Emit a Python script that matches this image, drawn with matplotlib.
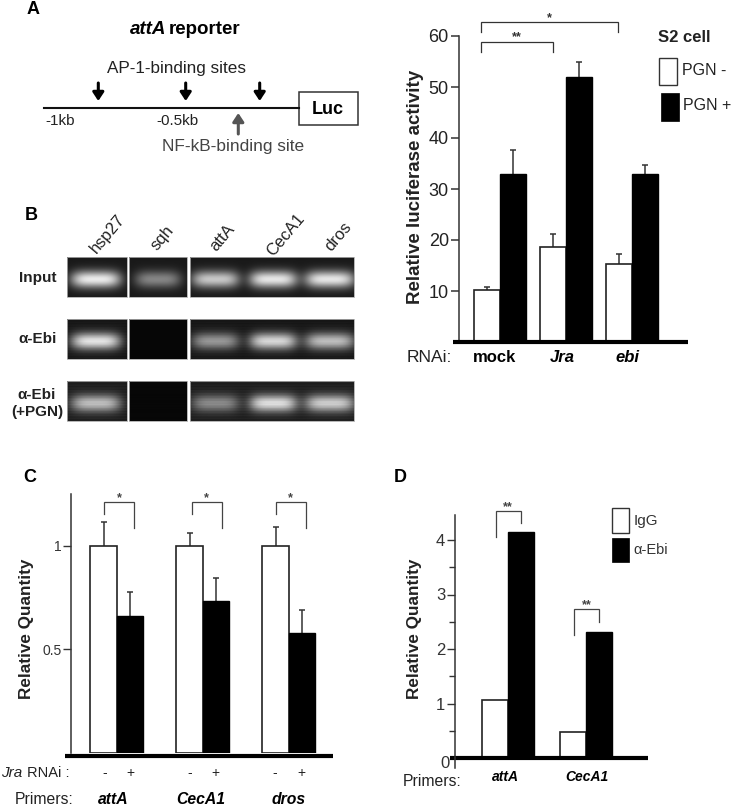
#!/usr/bin/python3
import numpy as np
import matplotlib
matplotlib.use('Agg')
import matplotlib.pyplot as plt
from matplotlib.patches import Rectangle

plt.rcParams['font.family'] = ['Liberation Sans', 'DejaVu Sans']

W, H = 733, 807

# panel A chart
rnai_labels = ['mock', 'Jra', 'ebi']
luc_minus = [10.1, 18.7, 15.2]
luc_plus = [33, 52, 33]
luc_minus_top = [10.8, 21.2, 17.2]
luc_plus_top = [37.7, 55, 34.7]
luc_ticks = [10, 20, 30, 40, 50, 60]

# panel B gel bands, brightness per lane
gel_lanes = ['hsp27', 'sqh', 'attA', 'CecA1', 'dros']
gel_rows = ['Input', 'α-Ebi', 'α-Ebi\n(+PGN)']
band_input = [0.82, 0.42, 0.68, 0.8, 0.8]
band_ebi = [0.8, 0.0, 0.5, 0.75, 0.65]
band_pgn = [0.62, 0.0, 0.42, 0.75, 0.68]

# panel C
primers_c = ['attA', 'CecA1', 'dros']
jra_minus = [1.0, 1.0, 1.0]
jra_plus = [0.66, 0.735, 0.58]
jra_minus_top = [1.113, 1.063, 1.09]
jra_plus_top = [0.777, 0.844, 0.688]

# panel D
primers_d = ['attA', 'CecA1']
igg = [1.06, 0.48]
ebi = [4.14, 2.31]
d_major = [1, 2, 3, 4]
d_minor = [0.5, 1.5, 2.5, 3.5]


def px_axes(fig, left, right, top, bottom):
    ax = fig.add_axes([left / W, 1 - bottom / H, (right - left) / W, (bottom - top) / H])
    ax.patch.set_alpha(0)
    for side in ['top', 'right', 'bottom']:
        ax.spines[side].set_visible(False)
    ax.spines['left'].set_color('#333333')
    ax.spines['left'].set_linewidth(1.1)
    ax.set_xticks([])
    return ax


def bar_pairs(ax, left, right, first, step, width, white, black, white_top=None, black_top=None):
    ax.set_xlim((left - first) / step, (right - first) / step)
    x = np.arange(len(white))
    w = width / step
    ax.bar(x - w / 2, white, w, color='white', edgecolor='#222222', linewidth=1.2, zorder=2)
    ax.bar(x + w / 2, black, w, color='black', edgecolor='black', linewidth=1.0, zorder=2)
    if white_top is not None:
        for xs, vals, tops in [(x - w / 2, white, white_top), (x + w / 2, black, black_top)]:
            ax.vlines(xs, vals, tops, color='#333333', linewidth=1.1, zorder=1)
            ax.plot(xs, tops, linestyle='none', marker='_', markersize=5, markeredgewidth=1.1,
                    color='#333333', zorder=1)


def bracket(ov, x0, x1, top, left_end, right_end, stars, star_y, color='#444444'):
    ov.plot([x0, x0, x1, x1], [left_end, top, top, right_end], color=color, lw=0.9,
            solid_joinstyle='miter')
    ov.text((x0 + x1) / 2, star_y, stars, ha='center', va='center', fontsize=9, color=color,
            fontweight='bold')


def gel(ov, x0, x1, y0, y1, centers, halves, levels, back, streak, band_half=8.5):
    xs = np.arange(x0, x1, 0.5)
    ys = np.arange(y0, y1, 0.5)
    xx, yy = np.meshgrid(xs, ys)
    img = back + streak * np.cos(yy * 2.3)
    yc = (y0 + y1) / 2 + 2
    for c, half, level in zip(centers, halves, levels):
        shape = np.exp(-((xx - c) / half) ** 4) * np.exp(-((yy - yc) / band_half) ** 2)
        img = img + level * shape
    ov.imshow(np.clip(img, 0, 1), extent=(x0, x1, y1, y0), cmap='gray', vmin=0, vmax=1,
              aspect='auto', interpolation='bilinear', zorder=1)
    ov.add_patch(Rectangle((x0, y0), x1 - x0, y1 - y0, fill=False, edgecolor='#aaaaaa', lw=0.6, zorder=2))


def arrow(ov, x, y_from, y_to, color):
    ov.annotate('', xy=(x, y_to), xytext=(x, y_from),
                arrowprops=dict(arrowstyle='-|>,head_width=0.33,head_length=0.5', color=color,
                                lw=2.2, shrinkA=0, shrinkB=0))


def main():
    fig = plt.figure(figsize=(W / 100, H / 100), dpi=100)

    # chart A
    ax = px_axes(fig, 458.5, 688, 36, 342)
    ax.set_ylim(0, 60)
    bar_pairs(ax, 458.5, 688, 499.7, 66, 26, luc_minus, luc_plus, luc_minus_top, luc_plus_top)
    ax.set_yticks(luc_ticks)
    ax.tick_params(axis='y', length=6, width=1.1, color='#333333', labelsize=13,
                   labelcolor='#222222', pad=1)

    # chart C
    ax = px_axes(fig, 71, 333, 494, 753)
    ax.set_ylim(0, 259 / 207.3)
    bar_pairs(ax, 71, 333, 116.7, 86, 26.3, jra_minus, jra_plus, jra_minus_top, jra_plus_top)
    ax.set_yticks([0.5, 1])
    ax.set_yticklabels(['0.5', '1'])
    ax.tick_params(axis='y', length=6, width=1.0, color='#333333', labelsize=10,
                   labelcolor='#333333', pad=1)

    # chart D
    ax = px_axes(fig, 455, 648, 515, 758)
    ax.set_ylim(0, 243 / 54.5)
    bar_pairs(ax, 455, 648, 507.7, 78.6, 26, igg, ebi)
    ax.set_yticks(d_major)
    ax.set_yticks(d_minor, minor=True)
    ax.tick_params(axis='y', which='major', length=6, width=1.0, color='#333333', labelsize=12,
                   labelcolor='#333333', pad=1)
    ax.tick_params(axis='y', which='minor', length=4, width=1.0, color='#333333')

    # overlay in picture pixels for the schematic, gels, labels and brackets
    ov = fig.add_axes([0, 0, 1, 1], zorder=5)
    ov.patch.set_alpha(0)
    ov.axis('off')

    # baselines
    ov.plot([453, 688], [342, 342], color='black', lw=3.0, solid_capstyle='butt')
    ov.plot([65, 333], [756, 756], color='black', lw=3.0, solid_capstyle='butt')
    ov.plot([450, 648], [757.5, 757.5], color='black', lw=3.0, solid_capstyle='butt')
    ov.plot([455, 455], [757, 768], color='#333333', lw=1.1)

    # panel letters
    for letter, x, y in [('A', 27, 9), ('B', 25, 216), ('C', 23, 477), ('D', 394, 477)]:
        ov.text(x, y, letter, fontsize=13, fontweight='bold', ha='left', va='center')

    # schematic
    ov.text(166, 30, 'attA', fontsize=13.5, fontweight='bold', style='italic', ha='right', va='center')
    ov.text(169, 30, 'reporter', fontsize=13.5, fontweight='bold', ha='left', va='center')
    ov.text(176.5, 68, 'AP-1-binding sites', fontsize=12.3, ha='center', va='center', color='#222222')
    ov.plot([44, 299], [107.5, 107.5], color='#111111', lw=1.5)
    ov.add_patch(Rectangle((299, 92), 58.5, 33, facecolor='white', edgecolor='#333333', lw=1.1))
    ov.text(328, 109, 'Luc', fontsize=13, fontweight='bold', ha='center', va='center')
    for x in [98.3, 185.7, 259.7]:
        arrow(ov, x, 83, 101, 'black')
    arrow(ov, 238.3, 134, 113, '#555555')
    ov.text(45, 121, '-1kb', fontsize=11, ha='left', va='center', color='#222222')
    ov.text(156, 121, '-0.5kb', fontsize=11, ha='left', va='center', color='#222222')
    ov.text(233.3, 146, 'NF-kB-binding site', fontsize=12.4, ha='center', va='center', color='#444444')

    # gels
    lane_centers = [96, 157.7, 215, 272.7, 329.3]
    lane_halves = [25, 23, 24, 24, 25]
    columns = [(67.3, 127, [0]), (129, 186.7, [1]), (189.7, 353.7, [2, 3, 4])]
    rows = [(257.3, 296.7, band_input, 0.1, 0.0), (319.3, 359, band_ebi, 0.09, 0.012),
            (381.3, 420.7, band_pgn, 0.12, 0.02)]
    for y0, y1, levels, back, streak in rows:
        for x0, x1, lanes in columns:
            blank = 1 in lanes and levels is not band_input
            gel(ov, x0, x1, y0, y1, [lane_centers[i] for i in lanes], [lane_halves[i] for i in lanes],
                [levels[i] for i in lanes], 0.03 if blank else back, 0 if blank else streak)
    for name, x, y in zip(gel_lanes, [108, 162, 222, 286, 338], [234, 238, 238, 235, 237]):
        ov.text(x, y, name, fontsize=12, rotation=50, ha='center', va='center', color='#222222')
    ov.text(38, 278, gel_rows[0], fontsize=11, fontweight='bold', ha='center', va='center', color='#222222')
    ov.text(37.7, 339, gel_rows[1], fontsize=11, fontweight='bold', ha='center', va='center', color='#222222')
    ov.text(37, 403.5, gel_rows[2], fontsize=11, fontweight='bold', ha='center', va='center',
            color='#222222', linespacing=1.2)

    # chart A decorations
    ov.text(416, 187, 'Relative luciferase activity', fontsize=13.5, fontweight='bold', rotation=90,
            ha='center', va='center', color='#222222')
    bracket(ov, 481, 618, 22.3, 31.7, 31.7, '*', 18, '#333333')
    bracket(ov, 481, 552.7, 42.3, 51.7, 51.7, '**', 37, '#333333')
    ov.text(657.7, 37.7, 'S2 cell', fontsize=12, fontweight='bold', ha='left', va='center', color='#222222')
    ov.add_patch(Rectangle((659.3, 58.3), 18, 26.7, facecolor='white', edgecolor='#333333', lw=1.0))
    ov.add_patch(Rectangle((660.7, 93.3), 18, 27.4, facecolor='black', edgecolor='black', lw=0.5))
    ov.text(681.7, 70.7, 'PGN -', fontsize=11.5, ha='left', va='center', color='#222222')
    ov.text(682.7, 106, 'PGN +', fontsize=11.5, ha='left', va='center', color='#222222')
    ov.text(407, 357, 'RNAi:', fontsize=12.5, ha='left', va='center', color='#222222')
    for name, x, st in zip(rnai_labels, [495, 562, 627.7], ['normal', 'italic', 'italic']):
        ov.text(x, 358, name, fontsize=12, fontweight='bold', style=st, ha='center', va='center')

    # chart C decorations
    ov.text(26.7, 629, 'Relative Quantity', fontsize=12.3, fontweight='bold', rotation=90, ha='center',
            va='center', color='#222222')
    for x0, x1 in [(104, 134.3), (191.7, 221.7), (275.7, 306)]:
        bracket(ov, x0, x1, 502.3, 514, 528, '*', 498.5)
    ov.text(1.5, 773, 'Jra', fontsize=11, style='italic', ha='left', va='center', color='#222222')
    ov.text(27, 773, 'RNAi :', fontsize=10.5, ha='left', va='center', color='#222222')
    for x in [104.3, 190, 275]:
        ov.text(x, 773, '-', fontsize=10, ha='center', va='center', color='#222222')
    for x in [130, 215.7, 301]:
        ov.text(x, 773, '+', fontsize=10, ha='center', va='center', color='#222222')
    ov.text(15, 800, 'Primers:', fontsize=11.3, ha='left', va='center', color='#222222')
    for name, x in zip(primers_c, [113.3, 201, 288.3]):
        ov.text(x, 800, name, fontsize=11.3, fontweight='bold', style='italic', ha='center', va='center')

    # chart D decorations
    ov.text(414, 629, 'Relative Quantity', fontsize=12.3, fontweight='bold', rotation=90, ha='center',
            va='center', color='#222222')
    ov.text(445, 763, '0', fontsize=12, ha='center', va='center', color='#333333')
    bracket(ov, 495.7, 520.7, 511, 536.7, 522.7, '**', 507)
    bracket(ov, 574, 599.3, 609, 635, 621.7, '**', 605)
    ov.add_patch(Rectangle((612.3, 508.3), 17, 24.4, facecolor='white', edgecolor='#333333', lw=1.0))
    ov.add_patch(Rectangle((612.3, 538.3), 17, 24, facecolor='black', edgecolor='black', lw=0.5))
    ov.text(634, 521, 'IgG', fontsize=11, ha='left', va='center', color='#333333')
    ov.text(633.3, 550, 'α-Ebi', fontsize=10.5, ha='left', va='center', color='#333333')
    ov.text(402.7, 782, 'Primers:', fontsize=11.3, ha='left', va='center', color='#222222')
    for name, x in zip(primers_d, [505, 587.3]):
        ov.text(x, 777, name, fontsize=10, fontweight='bold', style='italic', ha='center', va='center')

    ov.set_xlim(0, W)
    ov.set_ylim(H, 0)
    fig.savefig('out.png', dpi=100)


if __name__ == '__main__':
    main()
